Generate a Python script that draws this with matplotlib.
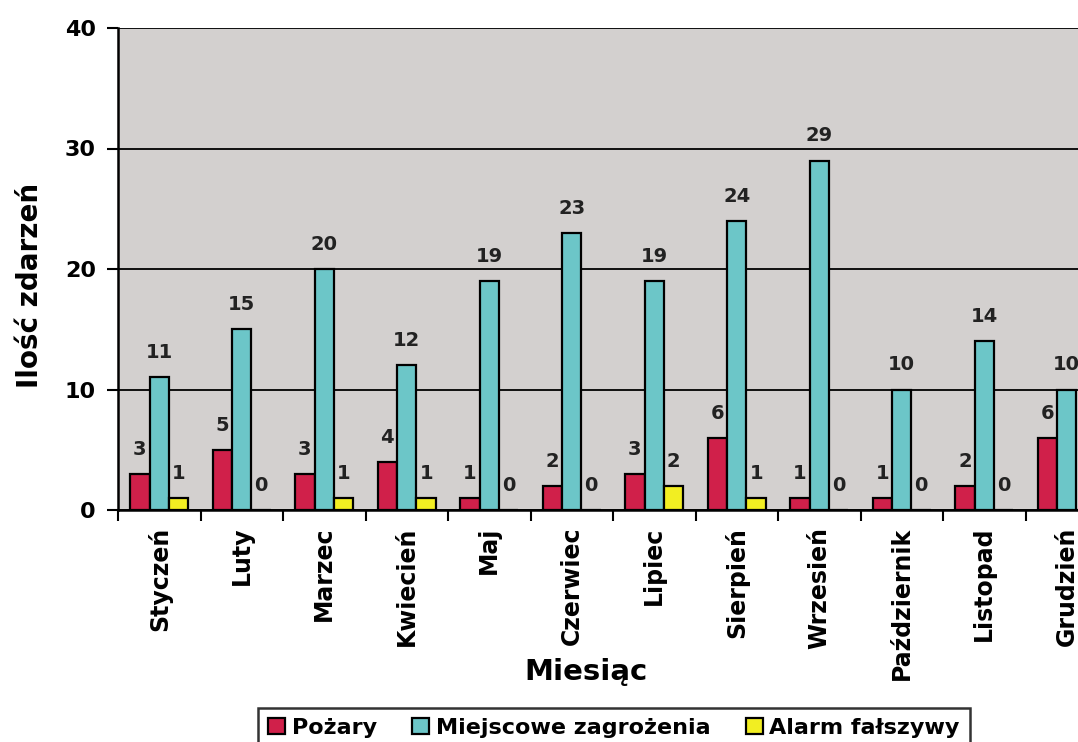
import matplotlib
matplotlib.use("Agg")
import matplotlib.pyplot as plt
import numpy as np

months = ["Styczeń", "Luty", "Marzec", "Kwiecień", "Maj", "Czerwiec", "Lipiec",
          "Sierpień", "Wrzesień", "Październik", "Listopad", "Grudzień"]
pozary = [3, 5, 3, 4, 1, 2, 3, 6, 1, 1, 2, 6]
miejscowe = [11, 15, 20, 12, 19, 23, 19, 24, 29, 10, 14, 10]
alarm = [1, 0, 1, 1, 0, 0, 2, 1, 0, 0, 0, 0]
series_names = ["Pożary", "Miejscowe zagrożenia", "Alarm fałszywy"]
colors = ["#D0204A", "#6CC6C8", "#F2EE22"]

plt.rcParams['font.family'] = ['DejaVu Sans']
plt.rcParams['font.weight'] = 'bold'

fig = plt.figure(figsize=(10.78, 7.42), dpi=100)
ax = fig.add_axes([118 / 1078, 1 - 510 / 742, 990 / 1078, 482 / 742])
ax.set_facecolor("#D3D0CF")

x = np.arange(len(months))
w = 0.235
handles = []
for i, (vals, c, name) in enumerate(zip([pozary, miejscowe, alarm], colors, series_names)):
    xs = x + (i - 1) * w
    b = ax.bar(xs, vals, width=w, color=c, edgecolor="black", linewidth=1.6, label=name, zorder=3)
    handles.append(b)
    for xi, v in zip(xs, vals):
        ax.text(xi, v + 1.25, str(v), ha="center", va="bottom", fontsize=14,
                fontweight="bold", color="#222222", zorder=4)

ax.set_xlim(-0.5, len(months) - 0.5)
ax.set_ylim(0, 40)
ax.set_yticks([0, 10, 20, 30, 40])
ax.set_yticklabels(["0", "10", "20", "30", "40"], fontsize=16, fontweight="bold")
ax.yaxis.grid(True, color="black", linewidth=1.3, zorder=1)
ax.set_axisbelow(True)

ax.set_xticks(np.arange(len(months) + 1) - 0.5)
ax.set_xticklabels([])
ax.set_xticks(x, minor=True)
ax.set_xticklabels(months, minor=True, rotation=90, fontsize=17, fontweight="bold", va="top")
ax.tick_params(axis="x", which="minor", length=0, pad=12)
ax.tick_params(axis="x", which="major", length=8, width=1.5, direction="out")
ax.tick_params(axis="y", length=8, width=1.5, direction="out", pad=8)

for s in ["top", "right"]:
    ax.spines[s].set_visible(False)
ax.spines["left"].set_linewidth(1.8)
ax.spines["bottom"].set_linewidth(1.8)

fig.text(30 / 1078, 1 - 285 / 742, "Ilość zdarzeń", rotation=90, ha="center", va="center",
         fontsize=20, fontweight="bold")
fig.text(586 / 1078, 1 - 672 / 742, "Miesiąc", ha="center", va="center",
         fontsize=21, fontweight="bold")

leg = fig.legend(handles=handles, labels=series_names, loc="upper center",
                 bbox_to_anchor=(614 / 1078, 1 - 708 / 742), ncol=3,
                 frameon=True, fancybox=False, edgecolor="black",
                 prop={"size": 16, "weight": "bold"},
                 handlelength=0.75, handleheight=0.75, handletextpad=0.3,
                 columnspacing=1.6, borderpad=0.45, borderaxespad=0)
leg.get_frame().set_linewidth(1.8)

fig.savefig("out.png", dpi=100, facecolor="white")
